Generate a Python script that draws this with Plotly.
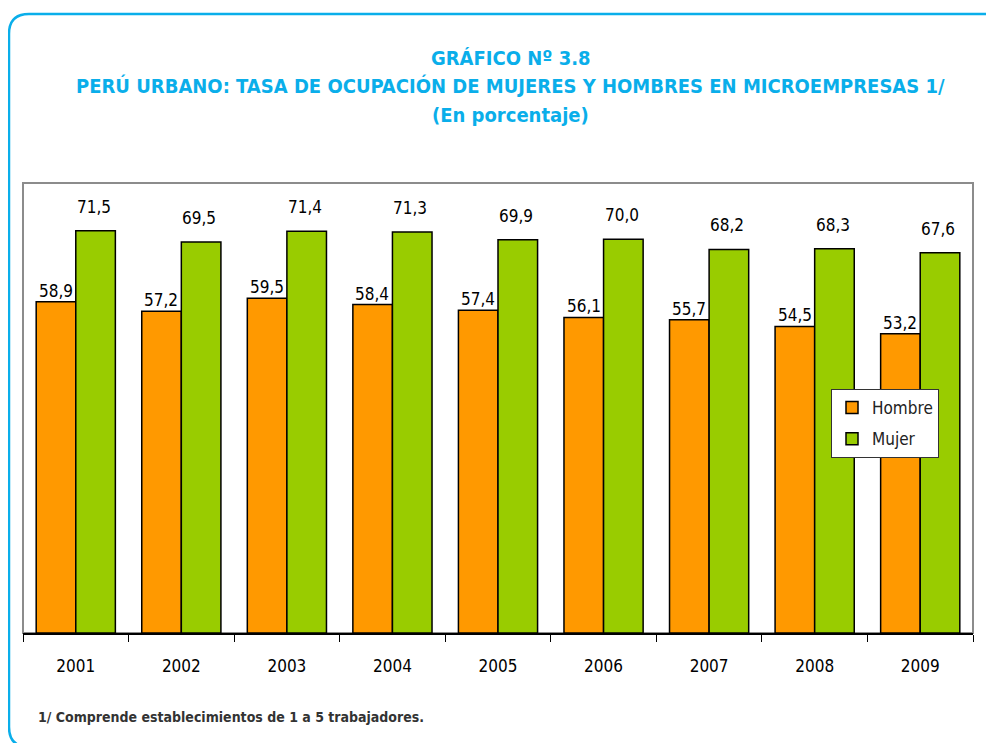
import plotly.graph_objects as go

# Data
years = ['2001', '2002', '2003', '2004', '2005', '2006', '2007', '2008', '2009']
hombre = [58.9, 57.2, 59.5, 58.4, 57.4, 56.1, 55.7, 54.5, 53.2]
mujer = [71.5, 69.5, 71.4, 71.3, 69.9, 70.0, 68.2, 68.3, 67.6]

# page body adds an 8px offset; figure sized to the visible area
OFF = 8
W, H = 994 - OFF, 743 - OFF
ML, MR, MT, MB = 23 - OFF, 21, 183 - OFF, 110
PW, PH = W - ML - MR, H - MT - MB

FONT = "Liberation Sans Narrow, Arial Narrow, DejaVu Sans Condensed, sans-serif"
BLUE = "#0AAEEA"


def px(x):
    # reference-image pixel x -> paper
    return (x - OFF - ML) / PW


def py(y):
    # reference-image pixel y -> paper
    return (H - MB - (y - OFF)) / PH


fig = go.Figure()
fig.add_trace(go.Bar(x=years, y=hombre, name='Hombre', legendgroup='h',
                     marker=dict(color='#FF9900', line=dict(color='black', width=1.5))))
fig.add_trace(go.Bar(x=years, y=mujer, name='Mujer', legendgroup='m',
                     marker=dict(color='#99CC00', line=dict(color='black', width=1.5))))

annotations = []
for i, (h, m) in enumerate(zip(hombre, mujer)):
    annotations.append(dict(x=i, y=h, text=f"{h:.1f}".replace('.', ','), showarrow=False,
                            xref='x', yref='y', xshift=-20, yshift=-1, yanchor='bottom',
                            font=dict(size=17, color='black', family=FONT)))
    annotations.append(dict(x=i, y=m, text=f"{m:.1f}".replace('.', ','), showarrow=False,
                            xref='x', yref='y', xshift=18, yshift=12, yanchor='bottom',
                            font=dict(size=17, color='black', family=FONT)))

# titles
titles = [("<b>GRÁFICO Nº 3.8</b>", 58),
          ("<b>PERÚ URBANO: TASA DE OCUPACIÓN DE MUJERES Y HOMBRES EN MICROEMPRESAS 1/</b>", 86),
          ("<b>(En porcentaje)</b>", 115)]
for t, yy in titles:
    annotations.append(dict(text=t, x=px(511), y=py(yy), xref='paper', yref='paper',
                            showarrow=False, xanchor='center', yanchor='middle',
                            font=dict(size=20, color=BLUE, family=FONT)))
annotations.append(dict(text="<b>1/ Comprende establecimientos de 1 a 5 trabajadores.</b>",
                        x=px(36), y=py(717), xref='paper', yref='paper', showarrow=False,
                        xanchor='left', yanchor='middle',
                        font=dict(size=14, color='#333333', family=FONT)))

# outer rounded border (reference pixel coords converted to paper), bottom/right run off the page
x0, y0, x1, y1, r = 9, 14, 1010, 747, 20
path = (f"M {px(x0)},{py(y0 + r)} Q {px(x0)},{py(y0)} {px(x0 + r)},{py(y0)} "
        f"L {px(x1 - r)},{py(y0)} Q {px(x1)},{py(y0)} {px(x1)},{py(y0 + r)} "
        f"L {px(x1)},{py(y1 - r)} Q {px(x1)},{py(y1)} {px(x1 - r)},{py(y1)} "
        f"L {px(x0 + r)},{py(y1)} Q {px(x0)},{py(y1)} {px(x0)},{py(y1 - r)} Z")

shapes = [
    dict(type='path', path=path, xref='paper', yref='paper',
         line=dict(color=BLUE, width=2.5), layer='below'),
    dict(type='rect', x0=0, x1=1, y0=0, y1=1, xref='paper', yref='paper',
         line=dict(color='#8C8C8C', width=2), layer='below'),
]

fig.update_layout(
    width=W, height=H,
    margin=dict(l=ML, r=MR, t=MT, b=MB, autoexpand=False),
    paper_bgcolor='white', plot_bgcolor='white',
    barmode='group', bargap=0.25, bargroupgap=0,
    font=dict(family=FONT, color='black'),
    showlegend=True,
    legend=dict(x=px(831), y=py(389), xanchor='left', yanchor='top',
                bgcolor='white', bordercolor='#333333', borderwidth=1,
                font=dict(size=17, family=FONT, color='#222222'),
                tracegroupgap=6),
    annotations=annotations,
    shapes=shapes,
)
fig.update_xaxes(type='category', showline=True, linecolor='black', linewidth=1.5,
                 ticks='outside', tickson='boundaries', ticklen=7, tickcolor='black',
                 ticklabelstandoff=17,
                 tickfont=dict(size=17, family=FONT, color='black'), showgrid=False)
fig.update_yaxes(range=[0, 80], visible=False, showgrid=False)

fig.write_html("out.html")
